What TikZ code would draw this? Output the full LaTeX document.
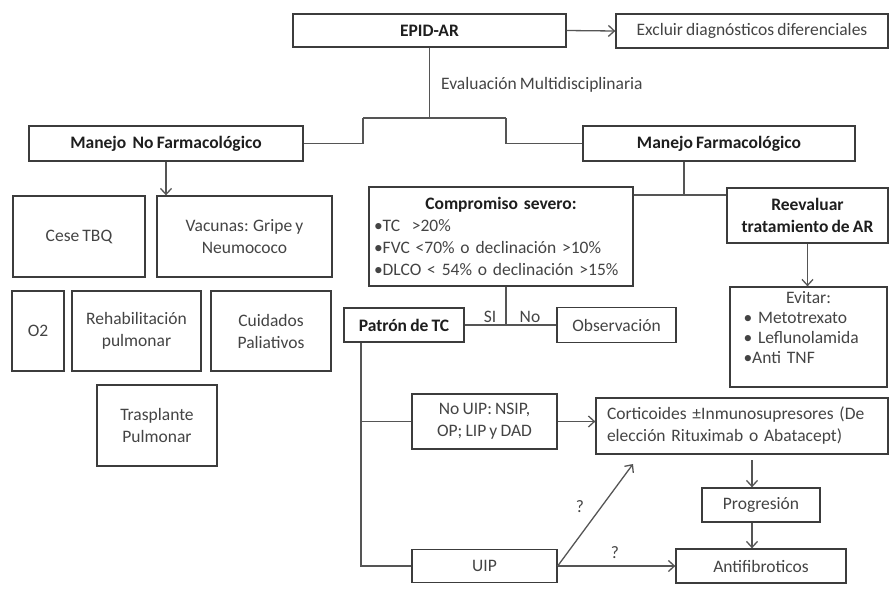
\documentclass[tikz,border=0pt]{standalone}
\usepackage{fontspec}
\setmainfont{Carlito}[WordSpace=0.8]
\usetikzlibrary{arrows.meta}
\definecolor{bordc}{HTML}{3C3C3C}
\definecolor{linec}{HTML}{555555}
\definecolor{txtc}{HTML}{444444}
\definecolor{boldc}{HTML}{1E1E1E}
\newcommand\dfont{\fontsize{17.5}{22}\selectfont}
\tikzset{
  box/.style={draw=bordc, line width=1.3pt, fill=white, inner sep=0pt, text=txtc, font=\dfont, align=center},
  bbox/.style={box, font=\dfont\bfseries, text=boldc},
  txt/.style={inner sep=0pt, text=txtc, font=\dfont},
  conn/.style={draw=linec, line width=1.3pt},
  arr/.style={conn, -{Straight Barb[length=6pt,width=11pt,line width=1.3pt]}},
}
\begin{document}
\begin{tikzpicture}[x=1pt,y=-1pt]
\useasboundingbox (0,0) rectangle (889,598);
% top
\node[bbox, minimum width=273pt, minimum height=33pt] (epid) at (429.5,30.5) {EPID-AR};
\node[box, minimum width=272pt, minimum height=34pt] (excl) at (752,31) {Excluir diagnósticos diferenciales};
\node[txt, anchor=west] (eval) at (441,85) {Evaluación Multidisciplinaria};
\node[bbox, minimum width=274pt, minimum height=35pt] (mnf) at (166,143.5) {Manejo\ \ No Farmacológico};
\node[bbox, minimum width=272pt, minimum height=35pt] (mf) at (719,143.5) {Manejo Farmacológico};
% non pharmacological
\node[box, minimum width=132pt, minimum height=81pt] (cese) at (79,236.5) {Cese TBQ};
\node[box, minimum width=175pt, minimum height=81pt] (vac) at (244.5,236.5) {Vacunas: Gripe y\\Neumococo};
\node[box, minimum width=52pt, minimum height=80pt] (o2) at (38,331) {O2};
\node[box, minimum width=129pt, minimum height=80pt] (rehab) at (136.5,331) {Rehabilitación\\pulmonar};
\node[box, minimum width=120pt, minimum height=80pt] (cuid) at (271,331) {Cuidados\\Paliativos};
\node[box, minimum width=120pt, minimum height=81pt] (traspl) at (157,425.5) {Trasplante\\Pulmonar};
% pharmacological
\node[box, minimum width=264pt, minimum height=99pt, text width=254pt, align=left] (comp) at (501,236.5)
  {\hfill{\bfseries\color{boldc}Compromiso severo:}\hfill\null\\
   •TC\ \ >20\%\\
   •FVC <70\% o declinación >10\%\\
   •DLCO < 54\% o declinación >15\%};
\node[bbox, minimum width=161pt, minimum height=55pt] (reev) at (807.5,215.5) {Reevaluar\\tratamiento de AR};
\node[box, minimum width=157pt, minimum height=100pt, text width=130pt, align=left, font=\fontsize{17.5}{20}\selectfont] (evitar) at (808.5,337)
  {\hfill Evitar:\hfill\null\\
   • Metotrexato\\
   • Leflunolamida\\
   •Anti TNF\\
   \mbox{}};
\node[bbox, minimum width=120pt, minimum height=34pt] (patron) at (404,325) {Patrón de TC};
\node[box, minimum width=119pt, minimum height=35pt] (obs) at (616.5,325) {Observación};
\node[box, minimum width=145pt, minimum height=55pt] (nouip) at (484.5,421.5) {No UIP: NSIP,\\OP; LIP y DAD};
\node[box, minimum width=292pt, minimum height=56pt, text width=270pt, align=left] (cort) at (742,426)
  {Corticoides ±Inmunosupresores (De\\elección Rituximab o Abatacept)};
\node[box, minimum width=118pt, minimum height=34pt] (prog) at (761,505) {Progresión};
\node[box, minimum width=170pt, minimum height=34pt] (antif) at (761,566) {Antifibroticos};
\node[box, minimum width=145pt, minimum height=33pt] (uip) at (484.5,566) {UIP};
% labels
\node[txt] (si) at (490,317) {SI};
\node[txt] (no) at (530,317) {No};
\node[txt] (q1) at (580,507) {?};
\node[txt] (q2) at (615,553) {?};
% connectors
\coordinate (j) at (429.5,118);
\coordinate (jl) at (363,118);
\coordinate (jr) at (506,118);
\draw[arr] (epid.east) -- (excl.west);
\draw[conn] (epid.south) -- (j);
\draw[conn] (jl) -- (jr);
\draw[conn] (jl) |- (mnf.east);
\draw[conn] (jr) |- (mf.west);
\draw[arr] (mnf.south) -- (mnf.south |- vac.north);
\coordinate (mfj) at (684,195);
\draw[conn] (mfj |- mf.south) -- (mfj);
\draw[conn] (comp.east |- mfj) -- (reev.west |- mfj);
\draw[arr] (reev.south) -- (reev.south |- evitar.north);
\coordinate (sj) at (506,325);
\draw[conn] (sj |- comp.south) -- (sj);
\draw[conn] (patron.east) -- (obs.west);
\coordinate (pv) at (361,566);
\draw[conn] (pv |- patron.south) -- (pv) -- (uip.west);
\draw[conn] (pv |- nouip.west) -- (nouip.west);
\draw[arr] (nouip.east) -- (nouip.east -| cort.west);
\coordinate (dtip) at (633,464);
\draw[arr] (uip.east) -- (dtip);
\draw[arr] (uip.east) -- (antif.west);
\coordinate (ca) at (752,460);
\draw[arr] (ca) -- (ca |- prog.north);
\draw[arr] (ca |- prog.south) -- (ca |- antif.north);
\end{tikzpicture}
\end{document}
